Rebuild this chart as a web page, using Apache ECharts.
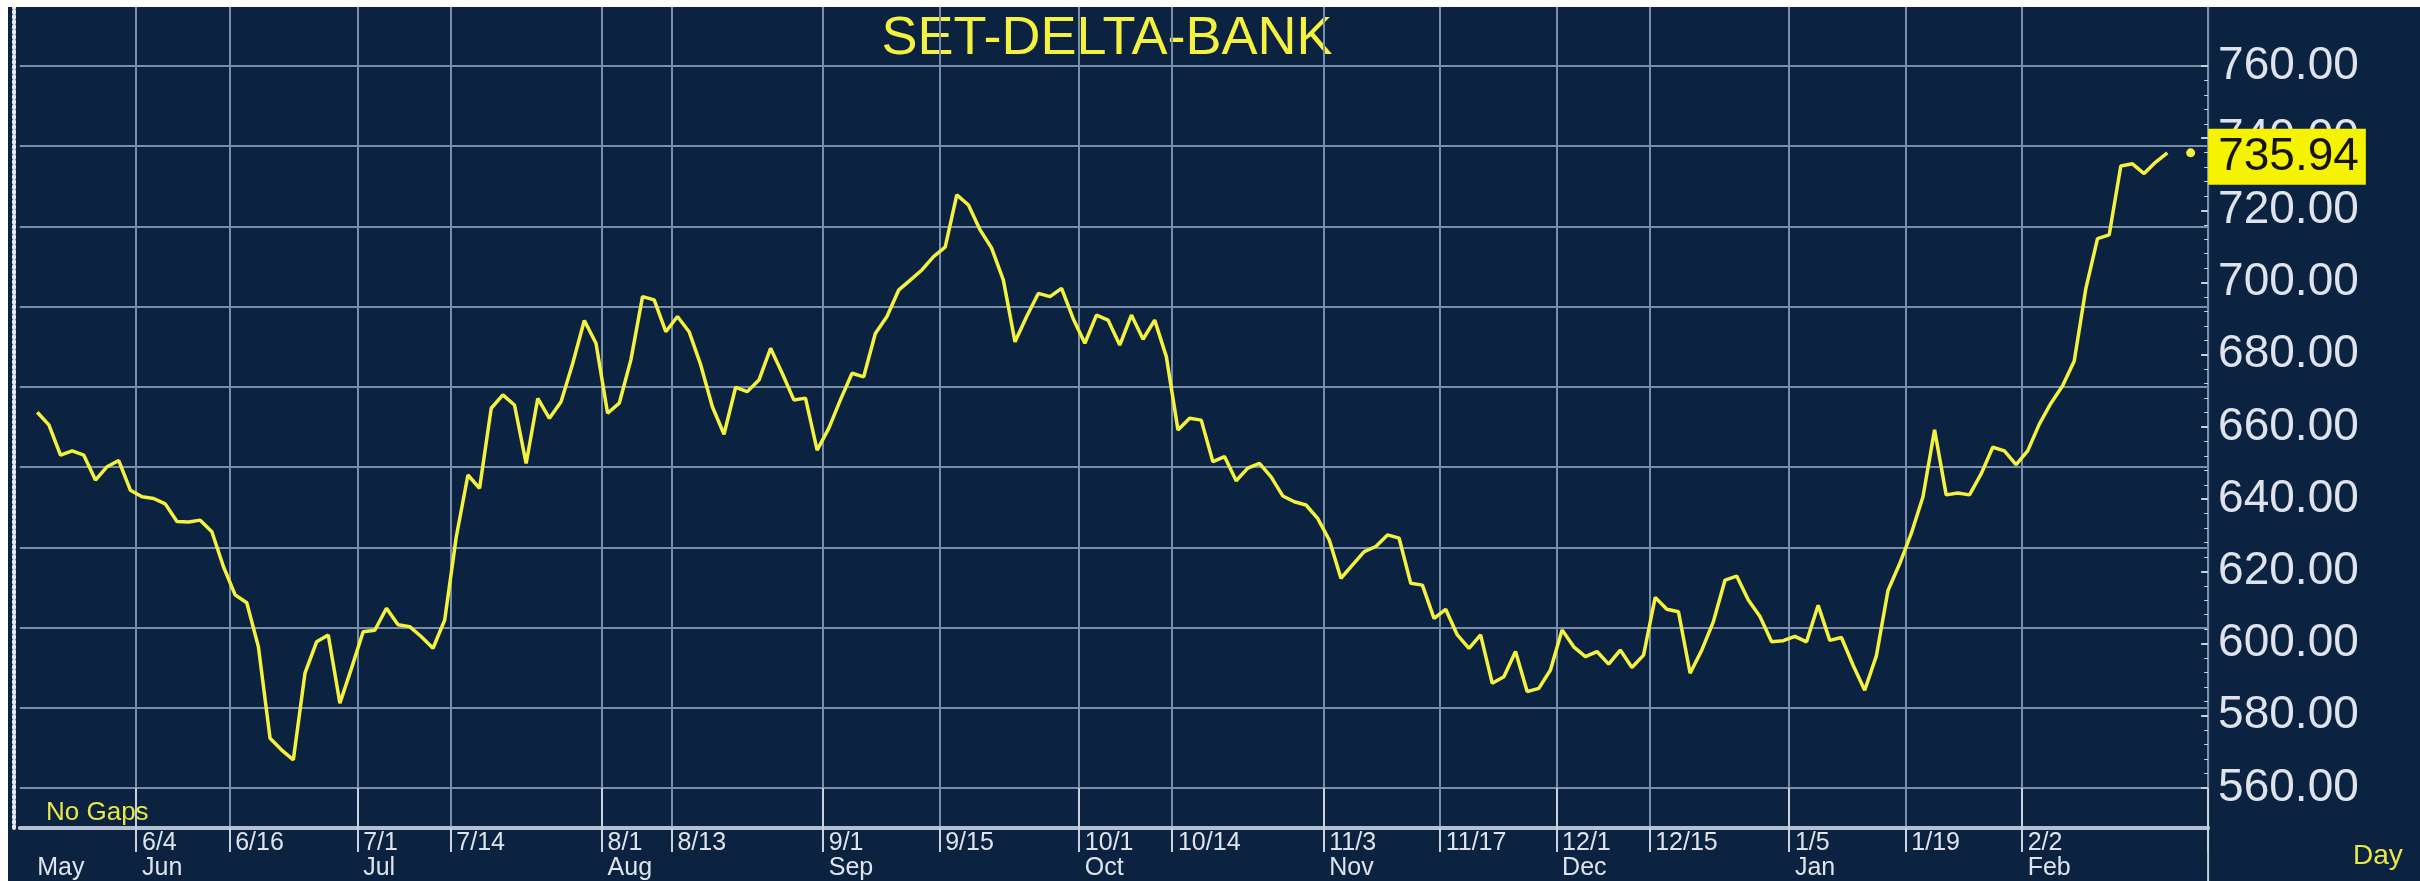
<!DOCTYPE html>
<html><head><meta charset="utf-8">
<script src="https://cdn.jsdelivr.net/npm/echarts@6/dist/echarts.min.js"></script>
<style>
html,body{margin:0;padding:0;background:#ffffff;width:2420px;height:881px;overflow:hidden;}
#chart{position:absolute;left:8px;top:7px;width:2412px;height:874px;}
</style></head><body><div id="chart"></div>
<script>
const chartTitle = 'SET-DELTA-BANK';
// daily closes, one per trading day (no gaps)
const values = [
 664.1, 660.6, 652.2, 653.4, 652.2, 645.3, 649.0, 650.7, 642.5, 640.7,
 640.2, 638.7, 633.8, 633.7, 634.2, 631.0, 621.3, 613.5, 611.3, 599.1,
 573.8, 570.5, 567.8, 591.8, 600.5, 602.4, 583.5, 593.2, 603.3, 603.7,
 609.8, 605.2, 604.7, 601.9, 598.7, 606.5, 629.6, 646.7, 643.0, 665.2,
 668.9, 666.1, 649.9, 667.9, 662.4, 667.0, 677.6, 689.5, 683.2, 663.8,
 666.6, 678.6, 696.1, 695.2, 686.4, 690.6, 686.4, 677.2, 665.6, 658.0,
 671.0, 669.8, 673.0, 681.8, 674.9, 667.5, 668.0, 653.6, 659.6, 667.5,
 674.9, 673.9, 685.9, 690.6, 697.9, 700.7, 703.5, 707.2, 709.8, 724.3,
 721.5, 714.6, 709.5, 700.7, 683.6, 690.6, 697.0, 696.1, 698.4, 690.0,
 683.2, 691.0, 689.6, 682.7, 691.0, 684.3, 689.6, 679.5, 659.2, 662.4,
 661.9, 650.4, 651.8, 645.1, 648.6, 649.9, 646.2, 640.9, 639.3, 638.4,
 634.7, 628.7, 618.1, 621.8, 625.5, 626.9, 630.1, 629.2, 616.7, 616.2,
 607.0, 609.5, 602.4, 598.7, 602.4, 589.0, 590.8, 597.8, 586.7, 587.6,
 592.7, 603.8, 599.1, 596.4, 597.8, 594.3, 598.2, 593.4, 596.8, 612.8,
 609.5, 608.8, 591.8, 598.2, 606.1, 617.6, 618.7, 612.1, 607.5, 600.5,
 600.8, 602.0, 600.5, 610.6, 600.9, 601.7, 594.0, 587.1, 596.6, 614.7,
 622.1, 630.5, 640.6, 659.2, 641.2, 641.7, 641.2, 647.0, 654.4, 653.4,
 649.6, 653.4, 660.8, 666.6, 671.4, 678.3, 698.4, 712.2, 713.2, 732.3,
 732.9, 730.2, 733.4, 735.94
];
// x-axis tick labels: trading-day index, day label, month label
const tickIdx   = [0, 9, 17, 28, 36, 49, 55, 68, 78, 90, 98, 111, 121, 131, 139, 151, 161, 171];
const tickDay   = ['', '6/4', '6/16', '7/1', '7/14', '8/1', '8/13', '9/1', '9/15', '10/1', '10/14', '11/3', '11/17', '12/1', '12/15', '1/5', '1/19', '2/2'];
const tickMonth = ['May', 'Jun', '', 'Jul', '', 'Aug', '', 'Sep', '', 'Oct', '', 'Nov', '', 'Dec', '', 'Jan', '', 'Feb'];
const yMin = 560, yMax = 760, yStep = 20;
const lastLabel = '735.94';
const footNote = 'No Gaps';
const axisUnit = 'Day';

const padBefore = 1, padAfter = 3;
const N = padBefore + values.length + padAfter;
const cats = [];
for (let k = 0; k < N; k++) cats.push(String(k));
const lineData = cats.map((c, k) => {
  const i = k - padBefore;
  return (i >= 0 && i < values.length) ? values[i] : '-';
});
const lastVal = values[values.length - 1];
const dotCat = padBefore + values.length + 1;

function tickPos(k) { return tickIdx.indexOf(k - padBefore); }

const YEL = '#f4f23e';
const GRIDC = '#7a8eaa';
const TXT = '#dfe4ec';
const FONT = '"Liberation Sans", Arial, sans-serif';

const gridLeft = 11.8, gridRight = 211.9;
const chart = echarts.init(document.getElementById('chart'));
chart.setOption({
  animation: false,
  backgroundColor: '#0b2341',
  grid: [
    {left: gridLeft, right: gridRight, top: 59, bottom: 93, containLabel: false},
    {left: gridLeft, right: gridRight, top: 0, bottom: 52, containLabel: false}
  ],
  xAxis: [
    { // frame axis with labels and vertical grid lines
      type: 'category', gridIndex: 1, data: cats, boundaryGap: true, position: 'bottom',
      axisLine: {show: true, lineStyle: {color: '#b3c0d3', width: 4}},
      axisTick: {show: true, length: 24, lineStyle: {color: '#c9d1dd', width: 2},
        interval: (k) => { const p = tickPos(k); return p > 0; }},
      axisLabel: {show: true, align: 'left', margin: 3,
        interval: (k) => tickPos(k) >= 0,
        formatter: (v, k) => {
          const p = tickPos(Number(v));
          if (p < 0) return '';
          return '{t|' + (tickDay[p] || ' ') + '}\n{m|' + (tickMonth[p] || ' ') + '}';
        },
        rich: {
          t: {fontSize: 25, lineHeight: 25, color: TXT, fontFamily: FONT},
          m: {fontSize: 25, lineHeight: 25, color: TXT, fontFamily: FONT}
        }},
      splitLine: {show: true, lineStyle: {color: GRIDC, width: 2},
        interval: (k) => { const p = tickPos(k); return p > 0; }}
    },
    { // data axis (hidden) with long month-boundary ticks
      type: 'category', gridIndex: 0, data: cats, boundaryGap: true, position: 'bottom', offset: 41,
      axisLine: {show: false},
      axisTick: {show: true, length: 52, lineStyle: {color: '#c9d1dd', width: 2},
        interval: (k) => { const p = tickPos(k); return p > 0 && tickMonth[p] !== ''; }},
      axisLabel: {show: false},
      splitLine: {show: false}
    }
  ],
  yAxis: [
    { // price axis on the right
      type: 'value', gridIndex: 0, position: 'right', min: yMin, max: yMax, interval: yStep,
      axisLine: {show: false},
      axisTick: {show: true, inside: true, length: 7, lineStyle: {color: '#c9d1dd', width: 2}},
      minorTick: {show: true, splitNumber: 5, length: 4, lineStyle: {color: '#c9d1dd', width: 1}},
      axisLabel: {show: true, margin: 10, fontSize: 46, color: TXT, fontFamily: FONT,
        formatter: (v) => v.toFixed(2)},
      splitLine: {show: false}
    },
    { // horizontal grid lines
      type: 'value', gridIndex: 0, position: 'left', min: 0, max: 9, interval: 1,
      axisLine: {show: false}, axisTick: {show: false}, axisLabel: {show: false},
      splitLine: {show: true, lineStyle: {color: GRIDC, width: 2}}
    },
    { // left dotted frame line
      type: 'value', gridIndex: 1, position: 'left', min: 0, max: 1, offset: 6,
      axisLine: {show: true, lineStyle: {color: '#e6ebf2', width: 4, type: [2, 3]}},
      axisTick: {show: false}, axisLabel: {show: false}, splitLine: {show: false}
    }
  ],
  series: [
    {
      type: 'line', xAxisIndex: 1, yAxisIndex: 0, data: lineData,
      showSymbol: false, symbol: 'none', smooth: false, connectNulls: false,
      lineStyle: {color: YEL, width: 3.5},
      z: 5
    },
    {
      type: 'scatter', xAxisIndex: 1, yAxisIndex: 0, clip: false,
      data: [[String(dotCat), lastVal]], symbolSize: 9,
      itemStyle: {color: YEL, opacity: 1}, z: 6,
      label: {show: true, position: 'right', distance: 13, offset: [0, 4],
        formatter: () => lastLabel,
        backgroundColor: '#f6f300', color: '#141414', fontSize: 46, fontFamily: FONT,
        padding: [7, 7, 3, 10], opacity: 1}
    }
  ],
  graphic: [
    {type: 'line', silent: true, shape: {x1: 2412 - gridRight, y1: 0, x2: 2412 - gridRight, y2: 874},
      style: {stroke: '#c3ccd9', lineWidth: 2}},
    {type: 'text', x: 1099, y: 32, silent: true,
      style: {text: chartTitle, fill: YEL, fontSize: 54, fontFamily: FONT, align: 'center', verticalAlign: 'middle'}},
    {type: 'text', x: 38, y: 806, silent: true,
      style: {text: footNote, fill: '#e9e748', fontSize: 26, fontFamily: FONT, align: 'left', verticalAlign: 'middle'}},
    {type: 'text', x: 2345, y: 849, silent: true,
      style: {text: axisUnit, fill: '#e9e748', fontSize: 28, fontFamily: FONT, align: 'left', verticalAlign: 'middle'}}
  ]
});
</script></body></html>
